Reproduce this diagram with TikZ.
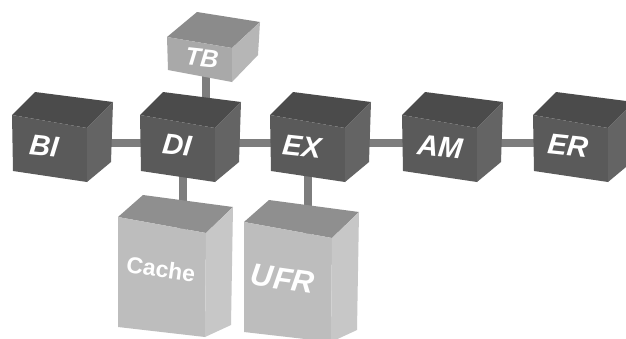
\documentclass[tikz,border=0pt]{standalone}
\usepackage{fontspec}
\setmainfont{Liberation Sans}
\usetikzlibrary{calc}
\definecolor{dktop}{HTML}{4B4B4B}
\definecolor{dkfront}{HTML}{5A5A5A}
\definecolor{dkside}{HTML}{646464}
\definecolor{tbtop}{HTML}{8B8B8B}
\definecolor{tbfront}{HTML}{A9A9A9}
\definecolor{tbside}{HTML}{B6B6B6}
\definecolor{lttop}{HTML}{8F8F8F}
\definecolor{ltfront}{HTML}{BDBDBD}
\definecolor{ltside}{HTML}{C7C7C7}
\definecolor{busgray}{HTML}{7D7D7D}
\pgfdeclarelayer{back}
\pgfsetlayers{back,main}
% #1 name, #2 colour prefix, #3 front top-left, #4..#9 offsets of
% front TR, front BR, front BL, back TL, back TR, back BR
\newcommand\boxcube[9]{%
  \coordinate (#1-a) at (#3);
  \coordinate (#1-b) at ($(#1-a)+(#4)$);
  \coordinate (#1-c) at ($(#1-a)+(#5)$);
  \coordinate (#1-d) at ($(#1-a)+(#6)$);
  \coordinate (#1-e) at ($(#1-a)+(#7)$);
  \coordinate (#1-f) at ($(#1-a)+(#8)$);
  \coordinate (#1-g) at ($(#1-a)+(#9)$);
  \fill[#2top] (#1-a) -- (#1-e) -- (#1-f) -- (#1-b) -- cycle;
  \fill[#2front] (#1-a) -- (#1-b) -- (#1-c) -- (#1-d) -- cycle;
  \fill[#2side] (#1-b) -- (#1-f) -- (#1-g) -- (#1-c) -- cycle;
}
\newcommand\darkcube[2]{\boxcube{#1}{dk}{#2}{75,13}{75,67}{1,56}{23,-23}{101,-13}{99,47}}
\newcommand\tbcube[2]{\boxcube{#1}{tb}{#2}{65,11}{65,45}{1,33}{30,-25}{93,-15}{91,18}}
\newcommand\lightcube[2]{\boxcube{#1}{lt}{#2}{88,16}{87,120}{0,110}{25,-22}{115,-10}{113,108}}
\begin{document}
\begin{tikzpicture}[x=1pt,y=-1pt,
  bus/.style={draw=busgray,line width=8pt},
  lbl/.style={text=white,inner sep=0pt,rotate=-6,
    font=\bfseries\itshape\fontsize{29}{29}\selectfont}]
\useasboundingbox (0,0) rectangle (626,338);
\clip (0,0) rectangle (626,338);
% hub coordinates for connectors
\coordinate (bi-h) at (60,142.5);
\coordinate (di-h) at (182.5,142.5);
\coordinate (ex-h) at (307.5,142.5);
\coordinate (am-h) at (440,142.5);
\coordinate (er-h) at (570,142.5);
\coordinate (tb-h) at (206,60);
\coordinate (di-t) at (206,120);
\coordinate (ca-h) at (182.5,260);
\coordinate (ufr-h) at (307.5,260);
\begin{pgfonlayer}{back}
  \fill[white] (0,0) rectangle (626,338);
  \draw[bus] (bi-h) -- (di-h) -- (ex-h) -- (am-h) -- (er-h);
  \draw[bus] (tb-h) -- (di-t);
  \draw[bus] (di-h) -- (ca-h);
  \draw[bus] (ex-h) -- (ufr-h);
\end{pgfonlayer}
% cubes
\tbcube{tbc}{167,37}
\darkcube{bic}{12,115}
\darkcube{dic}{140,115}
\darkcube{exc}{270,115}
\darkcube{amc}{402,115}
\darkcube{erc}{533,115}
\lightcube{cac}{118,217}
\lightcube{ufc}{244,222}
% labels
\node[lbl] (bi) at (44,146) {BI};
\node[lbl] (di) at (177,145) {DI};
\node[lbl] (ex) at (302,147) {EX};
\node[lbl] (am) at (440,147) {AM};
\node[lbl] (er) at (568,146) {ER};
\node[lbl,rotate=0,font=\bfseries\itshape\fontsize{25}{25}\selectfont] (tb) at (202,58) {TB};
\node[lbl,rotate=-2,font=\bfseries\fontsize{23}{23}\selectfont] (cache) at (161,269) {Cache};
\node[lbl,rotate=-2,font=\bfseries\itshape\fontsize{31}{31}\selectfont] (ufr) at (283,279) {UFR};
\end{tikzpicture}
\end{document}
